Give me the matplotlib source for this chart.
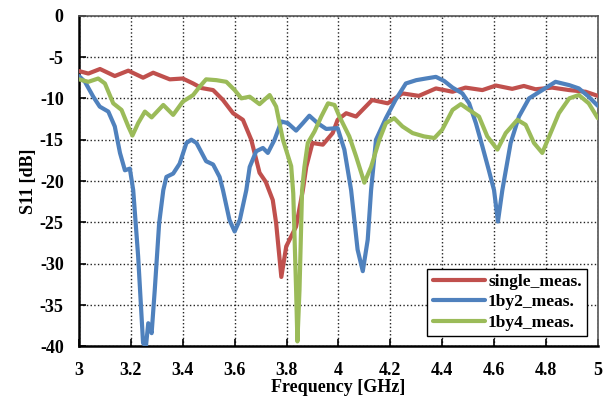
import numpy as np
import matplotlib
matplotlib.use("Agg")
import matplotlib.pyplot as plt

plt.rcParams['font.family'] = ['Liberation Serif', 'DejaVu Serif']
plt.rcParams['font.weight'] = 'bold'
plt.rcParams['axes.unicode_minus'] = False

# single_meas. (frequency GHz, S11 dB)
single_f = [3.0, 3.036, 3.081, 3.138, 3.19, 3.247, 3.286, 3.35, 3.40, 3.44, 3.472, 3.517,
            3.555, 3.594, 3.632, 3.664, 3.696, 3.72, 3.747, 3.76, 3.78, 3.799, 3.837, 3.863,
            3.876, 3.90, 3.94, 3.978, 3.997, 4.03, 4.068, 4.13, 4.19, 4.247, 4.31, 4.376,
            4.44, 4.49, 4.555, 4.607, 4.67, 4.715, 4.76, 4.824, 4.89, 4.953, 5.0]
single_s = [-6.7, -7.0, -6.45, -7.3, -6.65, -7.5, -6.9, -7.7, -7.6, -8.2, -8.75, -9.0,
            -10.2, -11.8, -12.6, -15.0, -19.0, -20.1, -22.3, -25.1, -31.6, -27.9, -25.5, -21.1,
            -18.3, -15.4, -15.6, -14.2, -12.6, -11.8, -12.2, -10.2, -10.6, -9.4, -9.7, -8.8,
            -9.2, -8.7, -9.0, -8.45, -8.85, -8.5, -8.9, -8.7, -9.0, -9.2, -9.7]

# 1by2_meas.
by2_f = [3.0, 3.023, 3.055, 3.08, 3.113, 3.138, 3.158, 3.177, 3.196, 3.209, 3.228, 3.247,
         3.258, 3.267, 3.28, 3.292, 3.309, 3.325, 3.337, 3.363, 3.388, 3.414, 3.433, 3.453,
         3.49, 3.517, 3.542, 3.555, 3.58, 3.6, 3.62, 3.645, 3.658, 3.683, 3.709, 3.728,
         3.754, 3.78, 3.805, 3.837, 3.863, 3.888, 3.92, 3.953, 3.997, 4.023, 4.049, 4.074,
         4.094, 4.113, 4.126, 4.145, 4.183, 4.22, 4.26, 4.3, 4.337, 4.376, 4.408, 4.44,
         4.478, 4.504, 4.53, 4.555, 4.58, 4.6, 4.615, 4.632, 4.664, 4.696, 4.735, 4.786,
         4.837, 4.89, 4.927, 4.965, 5.0]
by2_s = [-7.3, -8.0, -9.8, -11.0, -11.6, -13.4, -16.6, -18.7, -18.5, -21.1, -29.1, -39.6,
         -40.0, -37.2, -38.4, -33.2, -25.1, -21.1, -19.5, -19.1, -17.9, -15.4, -15.0, -15.4,
         -17.6, -18.0, -19.5, -21.1, -24.7, -26.1, -24.7, -21.1, -18.3, -16.4, -16.0, -16.6,
         -15.0, -12.8, -13.0, -13.9, -13.0, -12.1, -13.0, -13.7, -13.6, -16.2, -21.1, -28.3,
         -30.9, -27.1, -21.1, -15.0, -12.4, -10.2, -8.2, -7.8, -7.6, -7.4, -7.9, -8.7,
         -9.4, -10.6, -13.0, -15.8, -18.7, -21.1, -24.9, -21.1, -15.4, -12.2, -10.0, -9.0,
         -8.0, -8.4, -8.8, -9.8, -10.9]

# 1by4_meas.
by4_f = [3.0, 3.036, 3.074, 3.1, 3.132, 3.164, 3.19, 3.206, 3.228, 3.254, 3.28, 3.325,
         3.363, 3.40, 3.44, 3.465, 3.49, 3.53, 3.568, 3.6, 3.626, 3.658, 3.696, 3.735,
         3.76, 3.786, 3.818, 3.826, 3.837, 3.842, 3.85, 3.86, 3.869, 3.882, 3.908, 3.934,
         3.96, 3.985, 4.004, 4.042, 4.068, 4.1, 4.126, 4.158, 4.183, 4.215, 4.247, 4.286,
         4.33, 4.37, 4.40, 4.44, 4.472, 4.504, 4.542, 4.574, 4.613, 4.645, 4.69, 4.722,
         4.754, 4.786, 4.818, 4.85, 4.89, 4.927, 4.965, 5.0]
by4_s = [-7.7, -8.0, -7.6, -8.2, -10.6, -11.4, -13.4, -14.5, -13.0, -11.6, -12.3, -10.8,
         -12.0, -10.4, -9.6, -8.6, -7.7, -7.8, -8.0, -9.0, -10.0, -9.8, -10.7, -9.6,
         -11.0, -15.0, -18.2, -21.5, -33.2, -39.4, -33.2, -21.1, -18.3, -15.4, -14.0, -12.2,
         -10.6, -10.8, -12.2, -14.6, -17.0, -20.2, -18.3, -15.0, -13.0, -12.4, -13.4, -14.2,
         -14.6, -14.8, -13.8, -11.4, -10.7, -11.4, -12.2, -14.6, -16.2, -14.2, -12.6, -13.2,
         -15.4, -16.6, -14.2, -11.8, -10.0, -9.6, -10.6, -12.4]

fig = plt.figure(figsize=(6.1, 3.97), dpi=100)
ax = fig.add_axes([0.1295, 0.1275, 0.8505, 0.833])

line_kw = dict(lw=3, zorder=3, solid_joinstyle='round', solid_capstyle='round')
ax.plot(single_f, single_s, color='#C0504D', label='single_meas.', **line_kw)
ax.plot(by2_f, by2_s, color='#4F81BD', label='1by2_meas.', **line_kw)
ax.plot(by4_f, by4_s, color='#9BBB59', label='1by4_meas.', **line_kw)

ax.set_xlim(3, 5)
ax.set_ylim(-40, 0)
ax.set_xticks(np.arange(3, 5.01, 0.2))
ax.set_xticklabels(['3', '3.2', '3.4', '3.6', '3.8', '4', '4.2', '4.4', '4.6', '4.8', '5'])
ax.set_yticks(np.arange(-40, 1, 5))
ax.tick_params(direction='in', length=5, width=1.2, labelsize=13)
ax.tick_params(axis='x', pad=11)
ax.tick_params(axis='y', pad=11)
ax.grid(True, linestyle=':', color='#222222', lw=1)

for side in ['left', 'bottom']:
    ax.spines[side].set_linewidth(1.8)
    ax.spines[side].set_color('black')
for side in ['top', 'right']:
    ax.spines[side].set_linewidth(1.2)
    ax.spines[side].set_color('#555555')

ax.set_xlabel('Frequency [GHz]', fontsize=13, fontweight='bold', labelpad=0)
ax.set_ylabel('S11 [dB]', fontsize=13, fontweight='bold', labelpad=2)

leg = ax.legend(loc='lower right', bbox_to_anchor=(0.979, 0.031), borderaxespad=0,
                fancybox=False, framealpha=1, edgecolor='black', fontsize=12.5,
                handlelength=3.0, handletextpad=0.2, labelspacing=0.25, borderpad=0.3)
leg.get_frame().set_linewidth(1.0)

fig.savefig('out.png', dpi=100)
